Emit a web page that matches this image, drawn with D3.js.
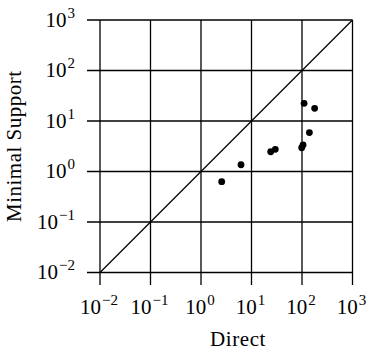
<!DOCTYPE html>
<html>
<head>
<meta charset="utf-8">
<script src="https://cdn.jsdelivr.net/npm/d3@7"></script>
<style>
  body{margin:0;background:#fff;}
  text{font-family:"Liberation Serif","DejaVu Serif",serif;fill:#000;}
</style>
</head>
<body>
<svg id="chart" width="374" height="356"></svg>
<script>
// values
const direct=[110,178,140,105,98.6,24,29.6,6.2,2.57];
const support=[22.4,17.8,5.9,3.35,2.95,2.46,2.75,1.36,0.63];
const tickVals=[1e-2,1e-1,1e0,1e1,1e2,1e3];
const tickExp=["\u22122","\u22121","0","1","2","3"];

const svg=d3.select("#chart");
const x=d3.scaleLog().domain([1e-2,1e3]).range([100,352.5]);
const y=d3.scaleLog().domain([1e-2,1e3]).range([272.5,20]);

const g=svg.append("g");

// grid
g.selectAll("line.vg").data(tickVals).enter().append("line")
  .attr("x1",d=>x(d)).attr("x2",d=>x(d))
  .attr("y1",y(1e3)).attr("y2",y(1e-2)+12.5)
  .attr("stroke","#000").attr("stroke-width",1.3);
g.selectAll("line.hg").data(tickVals).enter().append("line")
  .attr("y1",d=>y(d)).attr("y2",d=>y(d))
  .attr("x1",x(1e-2)-13).attr("x2",x(1e3))
  .attr("stroke","#000").attr("stroke-width",1.3);

// diagonal
g.append("line")
  .attr("x1",x(1e-2)).attr("y1",y(1e-2))
  .attr("x2",x(1e3)).attr("y2",y(1e3))
  .attr("stroke","#000").attr("stroke-width",1.2);

// points
g.selectAll("circle").data(direct).enter().append("circle")
  .attr("cx",d=>x(d)).attr("cy",(d,i)=>y(support[i]))
  .attr("r",3.4).attr("fill","#000");

// tick labels
const xl=g.selectAll("text.xt").data(tickVals).enter().append("text")
  .attr("x",d=>x(d)-1).attr("y",314)
  .attr("text-anchor","middle").attr("font-size",21);
xl.append("tspan").text("10");
xl.append("tspan").attr("dy",-9).attr("dx",1).attr("font-size",15).text((d,i)=>tickExp[i]);

const yl=g.selectAll("text.yt").data(tickVals).enter().append("text")
  .attr("x",75).attr("y",d=>y(d)+6.5)
  .attr("text-anchor","end").attr("font-size",21);
yl.append("tspan").text("10");
yl.append("tspan").attr("dy",-9).attr("dx",1).attr("font-size",15).text((d,i)=>tickExp[i]);

// axis titles
svg.append("text").attr("x",238).attr("y",346)
  .attr("text-anchor","middle").attr("font-size",21)
  .attr("letter-spacing",0.6).text("Direct");
svg.append("text")
  .attr("transform",`translate(21,${(y(1e-2)+y(1e3))/2}) rotate(-90)`)
  .attr("text-anchor","middle").attr("font-size",21)
  .attr("letter-spacing",0.5).text("Minimal Support");
</script>
</body>
</html>
